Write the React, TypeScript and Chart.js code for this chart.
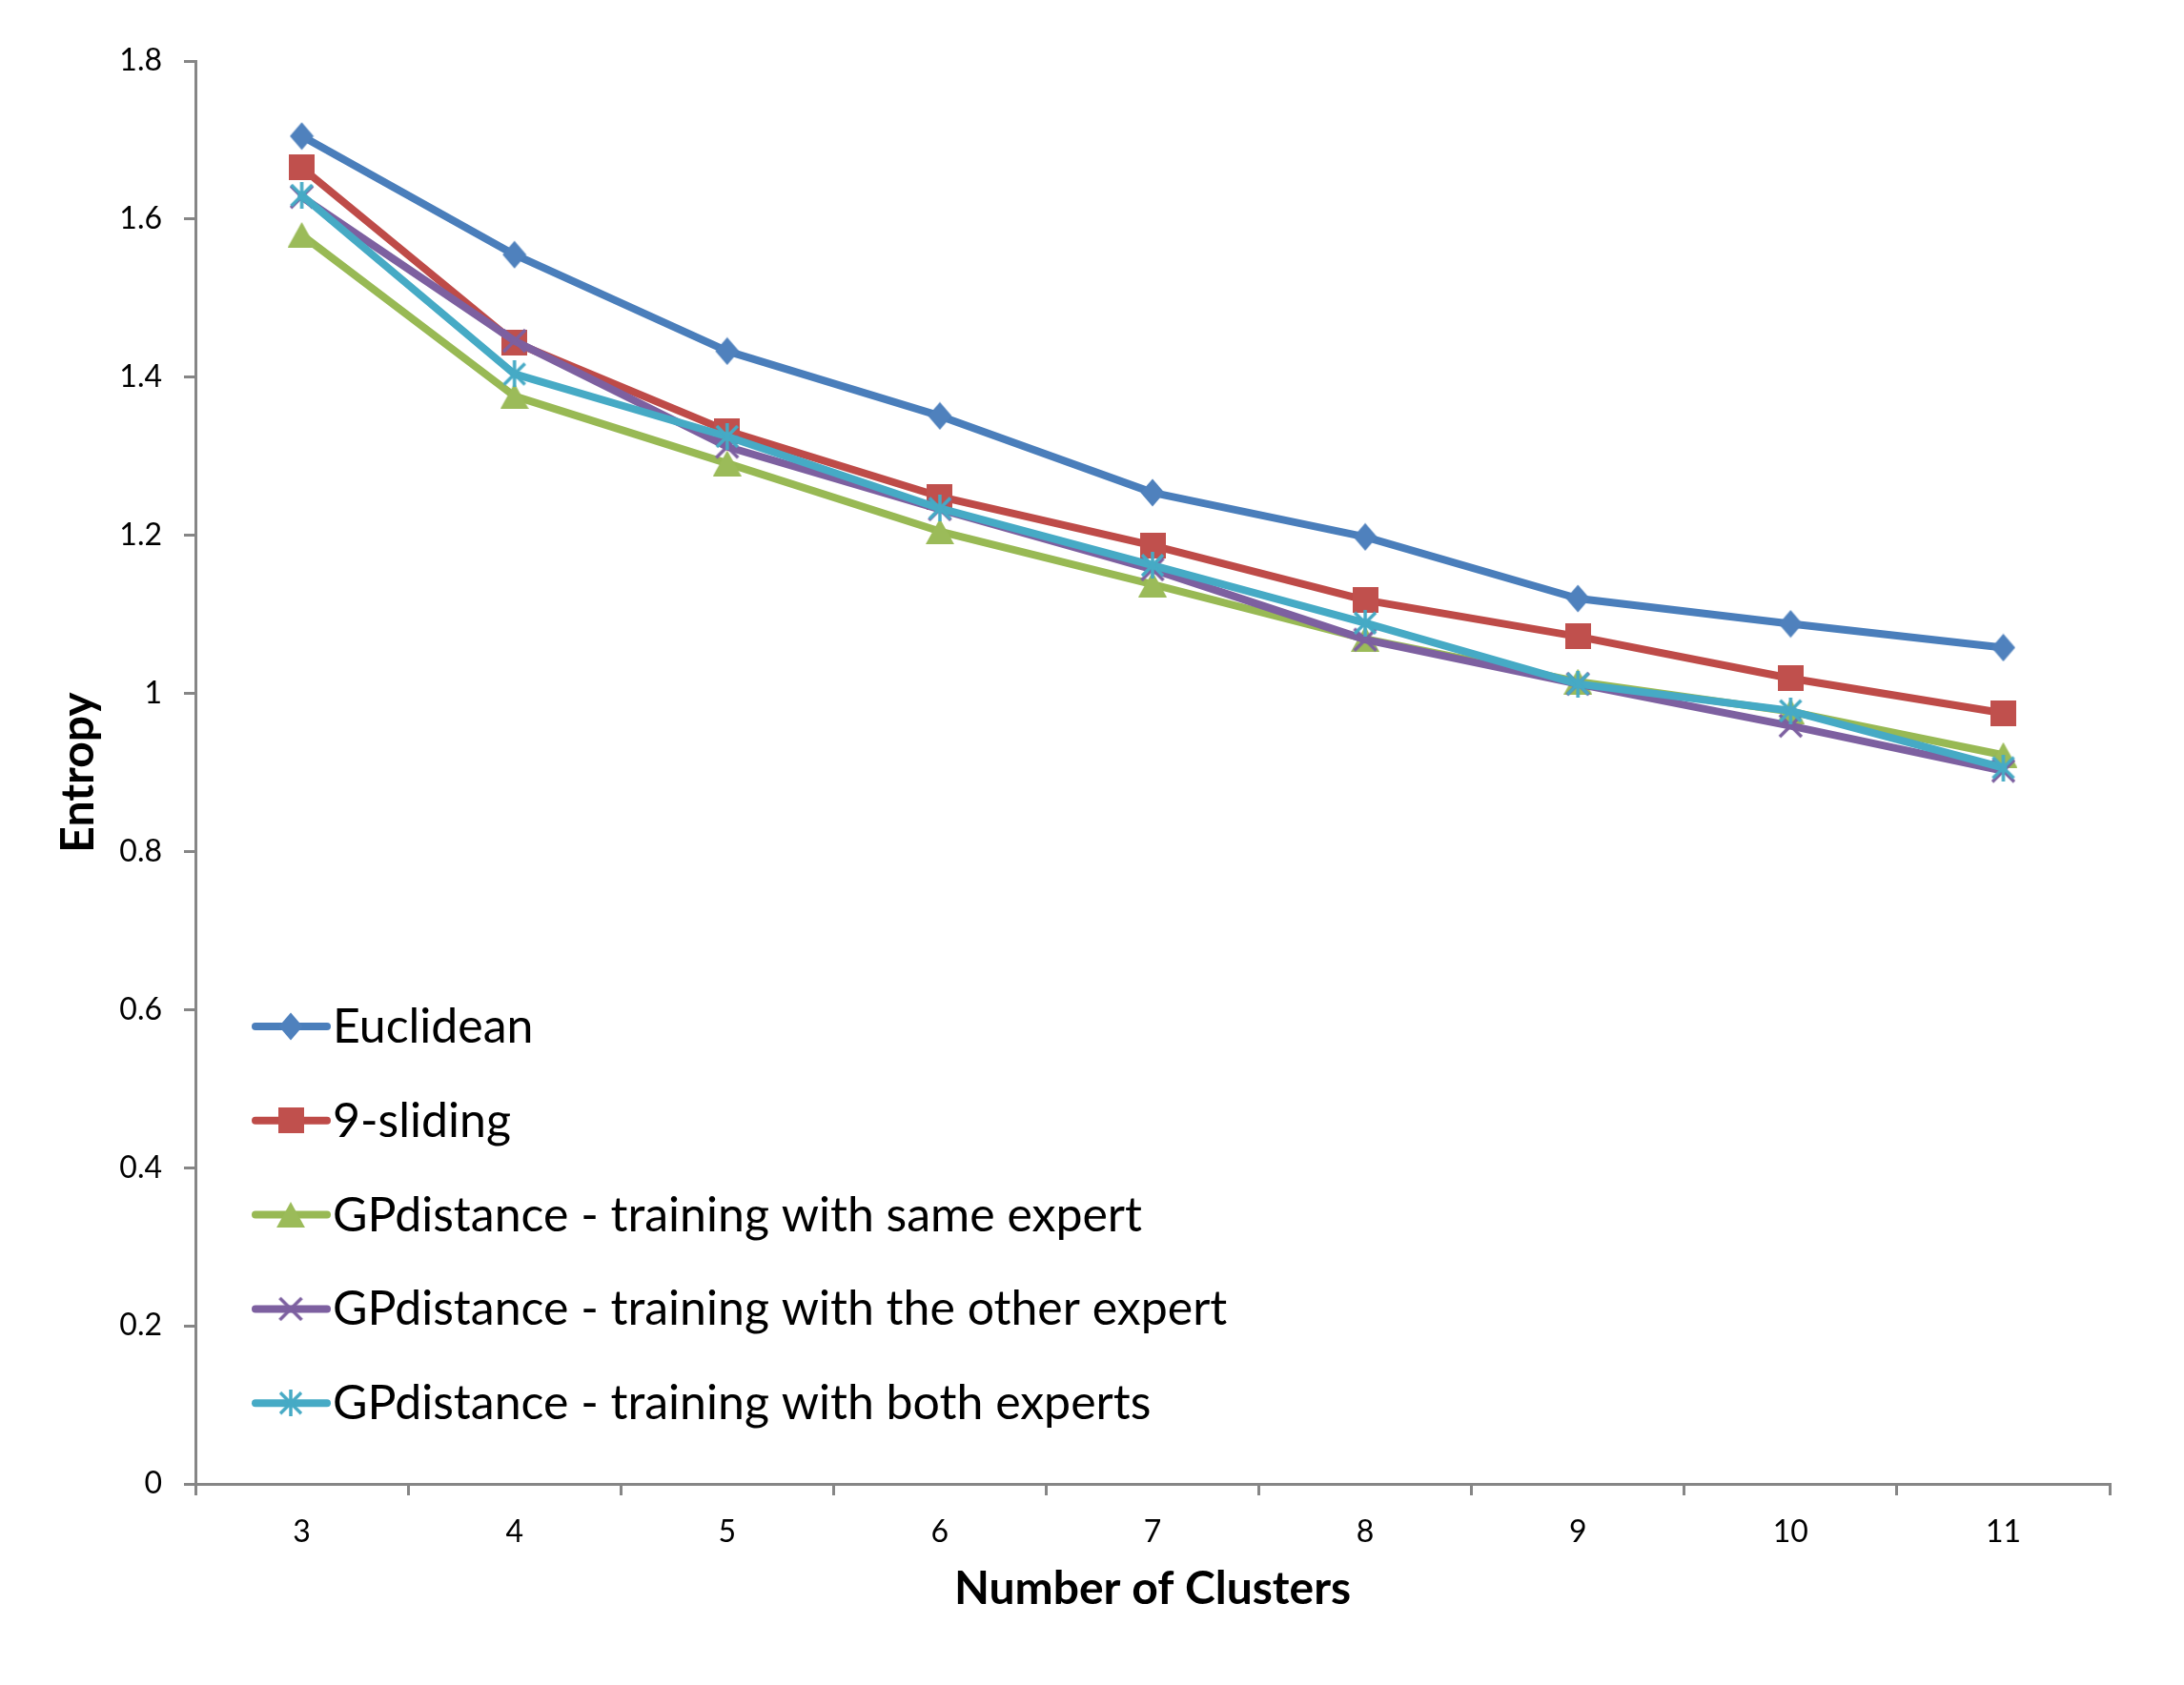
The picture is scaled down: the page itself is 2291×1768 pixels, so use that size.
import React, { useEffect, useRef } from "react";
import { Chart, registerables } from "chart.js";

Chart.register(...registerables);

// ---- data ----
const categories = ["3", "4", "5", "6", "7", "8", "9", "10", "11"];
const euclidean = [1.705, 1.555, 1.433, 1.351, 1.254, 1.198, 1.12, 1.088, 1.058];
const sliding9 = [1.665, 1.444, 1.332, 1.249, 1.187, 1.118, 1.072, 1.019, 0.975];
const sameExpert = [1.58, 1.376, 1.291, 1.205, 1.138, 1.069, 1.015, 0.977, 0.922];
const otherExpert = [1.628, 1.446, 1.312, 1.233, 1.157, 1.068, 1.012, 0.959, 0.902];
const bothExperts = [1.63, 1.404, 1.325, 1.234, 1.162, 1.089, 1.012, 0.978, 0.906];
const seriesLabels = [
  "Euclidean",
  "9-sliding",
  "GPdistance - training with same expert",
  "GPdistance - training with the other expert",
  "GPdistance - training with both experts",
];
const yMin = 0;
const yMax = 1.8;
const yStep = 0.2;
const xTitle = "Number of Clusters";
const yTitle = "Entropy";

// ---- styles ----
const FONT = "Lato";
const AXIS_COLOR = "#868686";

function makeMarker(kind: string, fill: string, stroke: string): HTMLCanvasElement {
  const c = document.createElement("canvas");
  let w = 24, h = 24;
  if (kind === "diamond") { w = 26; h = 30; }
  if (kind === "square") { w = 27; h = 27; }
  if (kind === "triangle") { w = 30; h = 27; }
  if (kind === "x") { w = 27; h = 27; }
  if (kind === "star") { w = 28; h = 28; }
  c.width = w; c.height = h;
  const g = c.getContext("2d")!;
  g.fillStyle = fill;
  g.strokeStyle = stroke;
  if (kind === "diamond") {
    g.beginPath();
    g.moveTo(w / 2, 0.5); g.lineTo(w - 0.5, h / 2); g.lineTo(w / 2, h - 0.5); g.lineTo(0.5, h / 2);
    g.closePath(); g.fill();
  } else if (kind === "square") {
    g.fillRect(0, 0, w, h);
  } else if (kind === "triangle") {
    g.beginPath();
    g.moveTo(w / 2, 0); g.lineTo(w, h); g.lineTo(0, h); g.closePath(); g.fill();
  } else if (kind === "x") {
    g.lineWidth = 3.5; g.lineCap = "butt";
    g.beginPath();
    g.moveTo(2, 2); g.lineTo(w - 2, h - 2);
    g.moveTo(w - 2, 2); g.lineTo(2, h - 2);
    g.stroke();
  } else if (kind === "star") {
    g.lineWidth = 3.5;
    g.beginPath();
    g.moveTo(3, 3); g.lineTo(w - 3, h - 3);
    g.moveTo(w - 3, 3); g.lineTo(3, h - 3);
    g.moveTo(w / 2, 0); g.lineTo(w / 2, h);
    g.stroke();
  }
  return c;
}

const LEGEND_LINE_X0 = 268;
const LEGEND_LINE_X1 = 343;
const LEGEND_MARK_X = 305;
const LEGEND_TEXT_X = 349;
const LEGEND_Y0 = 1077;
const LEGEND_STEP = 98.8;

const legendPlugin = {
  id: "excelLegend",
  afterDatasetsDraw(chart: any) {
    const ctx = chart.ctx as CanvasRenderingContext2D;
    ctx.save();
    chart.data.datasets.forEach((ds: any, i: number) => {
      const y = LEGEND_Y0 + i * LEGEND_STEP;
      ctx.strokeStyle = ds.borderColor;
      ctx.lineWidth = 8;
      ctx.lineCap = "round";
      ctx.beginPath();
      ctx.moveTo(LEGEND_LINE_X0, y);
      ctx.lineTo(LEGEND_LINE_X1, y);
      ctx.stroke();
      const img = ds.pointStyle as HTMLCanvasElement;
      ctx.drawImage(img, LEGEND_MARK_X - img.width / 2, y - img.height / 2);
      ctx.fillStyle = "#000";
      ctx.font = `50px ${FONT}`;
      ctx.textBaseline = "alphabetic";
      ctx.textAlign = "left";
      ctx.fillText(ds.label, LEGEND_TEXT_X, y + 17);
    });
    ctx.restore();
  },
};

export default function App() {
  const ref = useRef<HTMLCanvasElement>(null);
  useEffect(() => {
    if (!ref.current) return;
    const mk = (label: string, data: number[], line: string, fill: string, kind: string, order: number) => ({
      label,
      data,
      borderColor: line,
      backgroundColor: fill,
      borderWidth: 8,
      borderCapStyle: "round" as const,
      borderJoinStyle: "round" as const,
      tension: 0,
      pointStyle: makeMarker(kind, fill, line),
      pointRadius: 13,
      pointHoverRadius: 13,
      order,
    });
    const chart = new Chart(ref.current, {
      type: "line",
      data: {
        labels: categories,
        datasets: [
          mk(seriesLabels[0], euclidean, "#4A7EBB", "#4F81BD", "diamond", 5),
          mk(seriesLabels[1], sliding9, "#BE4B48", "#C0504D", "square", 4),
          mk(seriesLabels[2], sameExpert, "#98B954", "#9BBB59", "triangle", 3),
          mk(seriesLabels[3], otherExpert, "#7D60A0", "#7D60A0", "x", 2),
          mk(seriesLabels[4], bothExperts, "#46AAC5", "#46AAC5", "star", 1),
        ],
      },
      options: {
        animation: false,
        responsive: false,
        devicePixelRatio: 1,
        layout: { padding: { left: 0, top: 64, right: 78, bottom: 0 } },
        plugins: { legend: { display: false }, tooltip: { enabled: false } },
        scales: {
          x: {
            type: "category",
            offset: true,
            grid: {
              display: true,
              drawOnChartArea: false,
              drawTicks: true,
              tickLength: 12,
              offset: true,
              color: AXIS_COLOR,
              lineWidth: 3,
            },
            border: { display: true, color: AXIS_COLOR, width: 3 },
            ticks: {
              color: "#000",
              font: { family: FONT, size: 32 },
              padding: 19,
              maxRotation: 0,
              autoSkip: false,
            },
            title: {
              display: true,
              text: xTitle,
              color: "#000",
              font: { family: FONT, size: 48, weight: "bold" },
              padding: { top: 0, bottom: 72 },
            },
            afterFit: (s: any) => { s.height = 211; },
          },
          y: {
            min: yMin,
            max: yMax,
            grid: {
              display: true,
              drawOnChartArea: false,
              drawTicks: true,
              tickLength: 12,
              color: AXIS_COLOR,
              lineWidth: 3,
            },
            border: { display: true, color: AXIS_COLOR, width: 3 },
            ticks: {
              stepSize: yStep,
              color: "#000",
              font: { family: FONT, size: 32 },
              padding: 23,
              callback: (v: any) => String(Math.round(Number(v) * 10) / 10),
            },
            title: {
              display: true,
              text: yTitle,
              color: "#000",
              font: { family: FONT, size: 48, weight: "bold" },
              padding: { top: 54, bottom: 0 },
            },
            afterFit: (s: any) => { s.width = 205; },
          },
        },
      },
      plugins: [legendPlugin],
    });
    return () => chart.destroy();
  }, []);
  return (
    <div style={{ position: "fixed", left: 0, top: 0, width: 2291, height: 1768, background: "#fff" }}>
      <canvas ref={ref} width={2291} height={1768} style={{ width: 2291, height: 1768, display: "block" }} />
    </div>
  );
}
